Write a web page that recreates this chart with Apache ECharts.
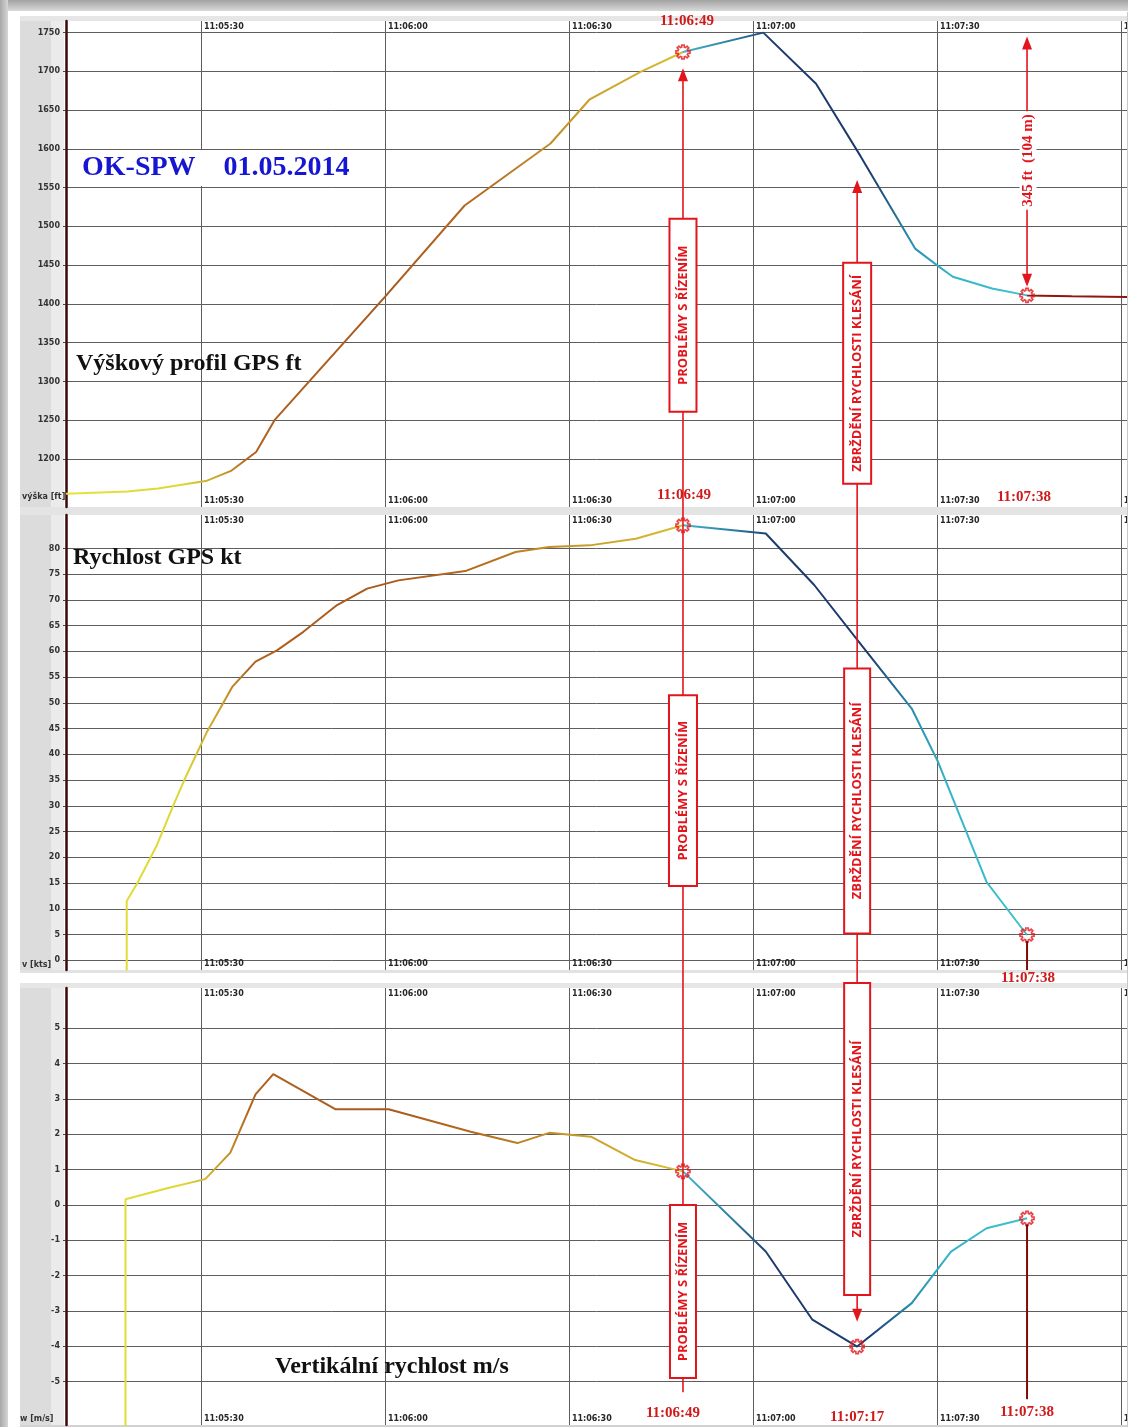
<!DOCTYPE html>
<html><head><meta charset="utf-8"><title>OK-SPW 01.05.2014</title>
<style>html,body{margin:0;padding:0;background:#fff;}#chart{width:1134px;height:1427px;}</style>
<script src="https://cdn.jsdelivr.net/npm/echarts@6/dist/echarts.min.js"></script>
</head><body><div id="chart"></div>
<script>
// ---------- DATA (x = seconds after 11:05:00) ----------
const altTime = [8, 18, 23, 31, 35, 39, 42, 60, 73, 87, 93.4, 101.6, 108.6, 121.7, 130.3, 137.6, 146.5, 150, 152.6, 159, 164.7, 172, 181];
const altFt   = [1155, 1158, 1162, 1172, 1185, 1209, 1250, 1409, 1527, 1607, 1664, 1699, 1725, 1750, 1684, 1590, 1471, 1450, 1435, 1420, 1411, 1410, 1409];

const spdTime = [17.9, 17.9, 19.6, 22.8, 25.5, 27.4, 31.0, 35.1, 38.9, 42.4, 46.7, 52.2, 57.1, 62.2, 73.1, 81.3, 86.8, 93.4, 100.9, 108.6, 122.1, 130, 137.7, 145.9, 150.2, 158.1, 164.7];
const spdKt   = [-2, 11.5, 14.9, 22.3, 30.1, 35.3, 44.4, 53.1, 58.0, 60.2, 63.8, 69.0, 72.2, 73.8, 75.6, 79.3, 80.3, 80.6, 81.9, 84.5, 82.9, 72.9, 61.2, 48.9, 38.5, 15.2, 4.9];

const vsTime = [17.7, 17.7, 24.5, 30.7, 34.8, 38.9, 41.8, 51.9, 60.6, 74, 81.6, 86.8, 93.6, 100.8, 108.6, 122.1, 129.7, 137, 145.9, 152.3, 158.1, 164.7];
const vsMs   = [-6.5, 0.16, 0.47, 0.73, 1.48, 3.13, 3.70, 2.71, 2.71, 2.07, 1.75, 2.04, 1.93, 1.27, 0.95, -1.32, -3.25, -4.01, -2.78, -1.32, -0.66, -0.38];

const xTicks   = [30, 60, 90, 120, 150, 180];
const altTicks = [1200, 1250, 1300, 1350, 1400, 1450, 1500, 1550, 1600, 1650, 1700, 1750];
const spdTicks = [0, 5, 10, 15, 20, 25, 30, 35, 40, 45, 50, 55, 60, 65, 70, 75, 80];
const vsTicks  = [-5, -4, -3, -2, -1, 0, 1, 2, 3, 4, 5];

const eventTimes  = [108.6, 137, 164.7];
const eventLabels = ['11:06:49', '11:07:17', '11:07:38'];
const altMarks = [[108.6, 1725], [164.7, 1411]];
const spdMarks = [[108.6, 84.5], [164.7, 4.9]];
const vsMarks  = [[108.6, 0.95], [137, -4.01], [164.7, -0.38]];
const altDropText = '345 ft  (104 m)';
const boxText1 = 'PROBLÉMY S ŘÍZENÍM';
const boxText2 = 'ZBRŽDĚNÍ RYCHLOSTI KLESÁNÍ';

// ---------- STYLE ----------
const RED = '#e2151d', DRED = '#7e0d08', LBLRED = '#d01a1a', GL = '#5e5e5e';
const LINE_STOPS = [
  [8, '#e6e33c'], [27, '#ddd634'], [33, '#caa02a'], [38, '#b0621e'], [60, '#a9581c'], [76, '#b56c1f'],
  [90, '#c6982a'], [104, '#d4b62e'], [108.5, '#d8c030'], [108.7, '#44b4cc'], [117, '#2a7ca2'],
  [123, '#1d3b6c'], [139, '#1c3c6e'], [146, '#2a8eb0'], [152, '#36b4c6'], [164.6, '#3cc2cc'],
  [164.8, '#8c1810'], [181, '#8c1810']
];
const X_MIN = 8, X_MAX = 181;
const fmt = v => { const s = Math.round(11 * 3600 + 5 * 60 + v); const h = Math.floor(s / 3600), m = Math.floor(s % 3600 / 60), ss = s % 60;
  return h + ':' + String(m).padStart(2, '0') + ':' + String(ss).padStart(2, '0'); };

const GEAR = (() => { const pts = [];
  for (let k = 0; k < 8; k++) { const c = k * Math.PI / 4;
    [[-0.17, 10], [0.17, 10], [0.26, 7.2], [0.52, 7.2]].forEach(([da, r]) => pts.push([10 + r * Math.cos(c + da), 10 + r * Math.sin(c + da)])); }
  return 'path://M' + pts.map(p => p[0].toFixed(2) + ' ' + p[1].toFixed(2)).join(' L') + ' Z'; })();

const grids = [
  { left: 66, width: 1061, top: 21, height: 486 },
  { left: 66, width: 1061, top: 515, height: 455 },
  { left: 66, width: 1061, top: 988, height: 437 }
].map(g => Object.assign(g, { containLabel: false, outerBoundsMode: 'none' }));
const yCfg = [
  { min: 1138, max: 1765, ticks: altTicks },
  { min: -1.9, max: 86.5, ticks: spdTicks },
  { min: -6.23, max: 6.14, ticks: vsTicks }
];
const xAxis = [], yAxis = [];
grids.forEach((g, i) => {
  ['top', 'bottom'].forEach(pos => xAxis.push({
    type: 'value', gridIndex: i, position: pos, min: X_MIN, max: X_MAX,
    axisLine: { show: false }, axisTick: { show: false, customValues: xTicks },
    axisLabel: { inside: true, customValues: xTicks, formatter: fmt, align: 'left', padding: [0, 0, 0, 3], margin: 2,
      fontSize: 8, fontWeight: 'bold', fontFamily: 'DejaVu Sans', color: '#262626' },
    splitLine: { show: pos === 'top', lineStyle: { color: GL, width: 1 } }
  }));
  yAxis.push({
    type: 'value', gridIndex: i, min: yCfg[i].min, max: yCfg[i].max,
    axisLine: { show: true, onZero: false, lineStyle: { color: '#3a0906', width: 2.5 } },
    axisTick: { show: true, length: 3, customValues: yCfg[i].ticks, lineStyle: { color: '#444' } },
    axisLabel: { customValues: yCfg[i].ticks, formatter: v => String(v), fontSize: 8, fontWeight: 'bold', fontFamily: 'DejaVu Sans', color: '#333', margin: 6 },
    splitLine: { show: true, lineStyle: { color: GL, width: 1 } }
  });
});
const zip = (a, b) => a.map((t, i) => [t, b[i]]);
const lineSeries = [zip(altTime, altFt), zip(spdTime, spdKt), zip(vsTime, vsMs)].map((d, i) => ({
  type: 'line', xAxisIndex: 2 * i, yAxisIndex: i, data: d, showSymbol: false, symbol: 'none',
  lineStyle: { width: 2 }, z: 5, silent: true }));
const markSeries = [altMarks, spdMarks, vsMarks].map((d, i) => ({
  type: 'scatter', xAxisIndex: 2 * i, yAxisIndex: i, data: d, symbol: GEAR, symbolSize: 14,
  itemStyle: { color: 'rgba(255,255,255,0)', borderColor: RED, borderWidth: 1.7 }, z: 20, silent: true }));

const chart = echarts.init(document.getElementById('chart'), null, { renderer: 'canvas' });
chart.setOption({ animation: false, textStyle: { fontFamily: 'DejaVu Sans' }, grid: grids, xAxis, yAxis,
  series: [...lineSeries, ...markSeries] });

// ---------- colours along time & annotations (positions via the chart's scales) ----------
const px = (g, t, v) => chart.convertToPixel({ xAxisIndex: 2 * g, yAxisIndex: g }, [t, v]);
const xa = chart.convertToPixel({ xAxisIndex: 0 }, X_MIN), xb = chart.convertToPixel({ xAxisIndex: 0 }, X_MAX);
const grad = { type: 'linear', x: xa, y: 0, x2: xb, y2: 0, global: true,
  colorStops: LINE_STOPS.map(([t, c]) => ({ offset: (chart.convertToPixel({ xAxisIndex: 0 }, t) - xa) / (xb - xa), color: c })) };

const G = [];
const rect = (x, y, w, h, fill, z) => G.push({ type: 'rect', shape: { x, y, width: w, height: h }, style: { fill }, z: z, silent: true });
const seg = (x1, y1, x2, y2, stroke, w, z) => G.push({ type: 'line', shape: { x1, y1, x2, y2 }, style: { stroke, lineWidth: w }, z: z || 30, silent: true });
const arrow = (x, y, up, fill) => G.push({ type: 'polygon', shape: { points: up ? [[x, y], [x - 5, y + 13], [x + 5, y + 13]] : [[x, y], [x - 5, y - 13], [x + 5, y - 13]] }, style: { fill }, z: 31, silent: true });
const txt = (x, y, text, font, fill, extra) => G.push(Object.assign({ type: 'text', x, y, style: { text, font, fill, align: 'center', verticalAlign: 'middle' }, z: 40, silent: true }, extra || {}));
const vbox = (g, t, v1, v2, w, text) => { const a = px(g, t, v1), b = px(g, t, v2);
  G.push({ type: 'rect', shape: { x: a[0] - w / 2, y: a[1], width: w, height: b[1] - a[1] }, style: { fill: '#fff', stroke: RED, lineWidth: 2 }, z: 32, silent: true });
  txt(a[0], (a[1] + b[1]) / 2, text, 'bold 13px "Open Sans"', RED, { rotation: Math.PI / 2, z: 33 }); };

// frame
rect(0, 0, 1134, 11, { type: 'linear', x: 0, y: 0, x2: 0, y2: 1, colorStops: [{ offset: 0, color: '#a2a2a2' }, { offset: 1, color: '#d9d9d9' }] }, -10);
rect(0, 0, 8, 1427, { type: 'linear', x: 0, y: 0, x2: 1, y2: 0, colorStops: [{ offset: 0, color: '#a8a8a8' }, { offset: 1, color: '#d6d6d6' }] }, -10);
[[17, 507], [512, 972], [984, 1425]].forEach(([y1, y2]) => { rect(20, y1, 31, y2 - y1, '#dcdcdc', -9); rect(51, y1, 13, y2 - y1, '#ebebeb', -9); });
rect(20, 16, 1108, 5, '#e6e6e6', -9);
rect(20, 507, 1108, 8, '#e4e4e4', -9);
rect(20, 970, 1108, 3, '#e2e2e2', -9);
rect(20, 983, 1108, 5, '#e6e6e6', -9);
rect(20, 1425, 1108, 2, '#d2d2d2', -9);
rect(1128, 0, 6, 1427, '#ffffff', 100);
rect(1127, 12, 1, 1415, '#c8c8c8', 101);

// axis names
[[22, 497, 'výška [ft]'], [22, 965, 'v [kts]'], [20, 1419, 'w [m/s]']].forEach(([x, y, t]) =>
  G.push({ type: 'text', x, y, style: { text: t, font: 'bold 8px "DejaVu Sans"', fill: '#333', align: 'left', verticalAlign: 'middle' }, z: 6, silent: true }));

// titles
G.push({ type: 'text', x: 78, y: 168, style: { text: 'OK-SPW    01.05.2014', font: 'bold 28px "Liberation Serif"', fill: '#1616d2', align: 'left', verticalAlign: 'middle', backgroundColor: '#fff', padding: [4, 4] }, z: 12, silent: true });
G.push({ type: 'text', x: 76, y: 364, style: { text: 'Výškový profil GPS ft', font: 'bold 24px "Liberation Serif"', fill: '#111', align: 'left', verticalAlign: 'middle' }, z: 12, silent: true });
G.push({ type: 'text', x: 73, y: 558, style: { text: 'Rychlost GPS kt', font: 'bold 24px "Liberation Serif"', fill: '#111', align: 'left', verticalAlign: 'middle' }, z: 12, silent: true });
G.push({ type: 'text', x: 275, y: 1367, style: { text: 'Vertikální rychlost m/s', font: 'bold 24px "Liberation Serif"', fill: '#111', align: 'left', verticalAlign: 'middle' }, z: 12, silent: true });

// event 1 : 11:06:49
const e1 = eventTimes[0], e2 = eventTimes[1], e3 = eventTimes[2];
let p = px(0, e1, 1704), q = px(2, e1, -5.3);
seg(p[0], p[1] + 8, q[0], q[1], RED, 1.6); arrow(p[0], p[1], true, RED);
vbox(0, e1, 1510, 1261, 27, boxText1); vbox(1, e1, 51.5, 14.4, 28, boxText1); vbox(2, e1, 0, -4.9, 26, boxText1);
const LF = 'bold 15px "Liberation Serif"';
p = px(0, e1, 1765); txt(p[0] + 4, p[1], eventLabels[0], LF, LBLRED);
p = px(0, e1, 1153); txt(p[0] + 1, p[1], eventLabels[0], LF, LBLRED);
p = px(2, e1, -5.9); txt(p[0] - 10, p[1], eventLabels[0], LF, LBLRED);

// event 2 : 11:07:17
p = px(0, e2, 1560); q = px(2, e2, -3.31);
seg(p[0], p[1] + 8, q[0], q[1] - 8, RED, 1.6); arrow(p[0], p[1], true, RED); arrow(q[0], q[1], false, RED);
vbox(0, e2, 1453, 1168, 28, boxText2); vbox(1, e2, 56.7, 5.2, 26, boxText2); vbox(2, e2, 6.28, -2.55, 26, boxText2);
p = px(2, e2, -6.0); txt(p[0], p[1], eventLabels[1], LF, LBLRED);

// event 3 : 11:07:38
p = px(0, e3, 1745); q = px(0, e3, 1422);
seg(p[0], p[1] + 8, q[0], q[1] - 8, RED, 1.6); arrow(p[0], p[1], true, RED); arrow(q[0], q[1], false, RED);
p = px(0, e3, 1585); txt(p[0] + 1, p[1], altDropText, LF, RED, { rotation: Math.PI / 2, style: { text: altDropText, font: LF, fill: RED, align: 'center', verticalAlign: 'middle', backgroundColor: '#fff', padding: [1, 3] } });
p = px(1, e3, 4.9); q = px(1, e3, -1.9); seg(p[0], p[1] + 6, q[0], q[1], DRED, 2, 25);
p = px(2, e3, -0.38); q = px(2, e3, -5.5); seg(p[0], p[1] + 6, q[0], q[1], DRED, 2, 25);
p = px(0, e3, 1151); txt(p[0] - 3, p[1], eventLabels[2], LF, LBLRED);
p = px(1, e3, -3.5); txt(p[0] + 1, p[1], eventLabels[2], LF, LBLRED);
p = px(2, e3, -5.87); txt(p[0], p[1], eventLabels[2], LF, LBLRED);

chart.setOption({
  series: [0, 1, 2].map(() => ({ lineStyle: { color: grad, width: 2 } })),
  graphic: { elements: G }
});
</script></body></html>
